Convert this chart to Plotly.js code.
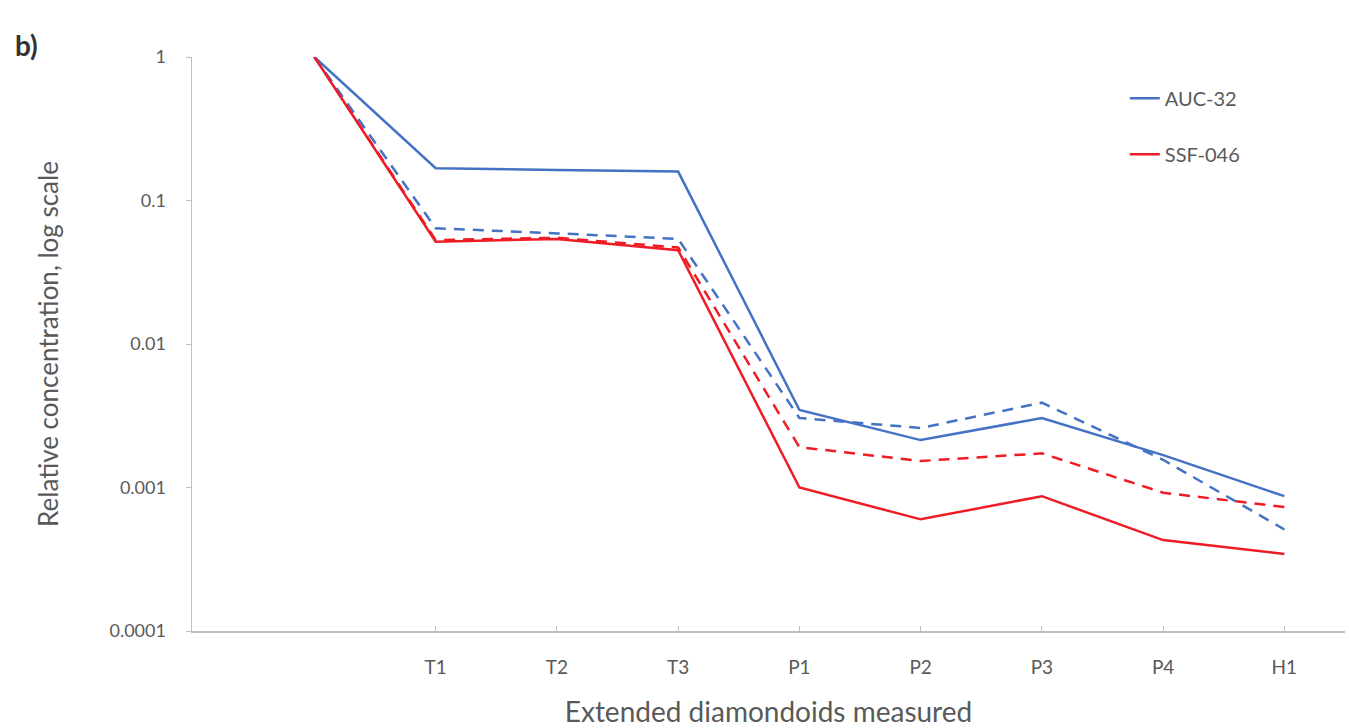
<!DOCTYPE html>
<html>
<head>
<meta charset="utf-8">
<script src="https://cdn.plot.ly/plotly-3.0.1.min.js"></script>
<style>html,body{margin:0;padding:0;background:#fff;}#chart{width:1349px;height:728px;}</style>
</head>
<body>
<div id="chart"></div>
<script>
// categories (first one is unlabelled)
const categories = ["", "T1", "T2", "T3", "P1", "P2", "P3", "P4", "H1"];
// series values
const auc32Solid  = [1, 0.168, 0.163, 0.159, 0.00347, 0.00214, 0.00305, 0.00168, 0.00087];
const auc32Dashed = [1, 0.064, 0.059, 0.054, 0.00305, 0.0026, 0.0039, 0.00156, 0.00051];
const ssf046Solid  = [1, 0.0516, 0.054, 0.045, 0.001, 0.0006, 0.00087, 0.00043, 0.000344];
const ssf046Dashed = [1, 0.053, 0.055, 0.047, 0.00191, 0.00153, 0.00173, 0.00092, 0.00073];
// y tick labels
const yTickVals = [0.0001, 0.001, 0.01, 0.1, 1];
const yTickText = ["0.0001", "0.001", "0.01", "0.1", "1"];

const xIdx = categories.map((c, i) => i);
const blue = "#4472C4";
const red = "#EE1C25";
const gray = "#595959";
const FONT = "Lato, 'Open Sans', sans-serif";

const traces = [
  {x: xIdx, y: auc32Solid, name: "AUC-32", mode: "lines", legendgroup: "a",
   line: {color: blue, width: 2.5}},
  {x: xIdx, y: ssf046Solid, name: "SSF-046", mode: "lines", legendgroup: "b",
   line: {color: red, width: 2.5}},
  {x: xIdx, y: auc32Dashed, name: "AUC-32 (dashed)", mode: "lines", showlegend: false,
   line: {color: blue, width: 2.5, dash: "11px,8px"}},
  {x: xIdx, y: ssf046Dashed, name: "SSF-046 (dashed)", mode: "lines", showlegend: false,
   line: {color: red, width: 2.5, dash: "11px,8px"}}
];

const layout = {
  width: 1349, height: 728,
  margin: {l: 192, r: 4, t: 57, b: 97},
  paper_bgcolor: "#fff", plot_bgcolor: "#fff",
  font: {family: FONT, color: gray},
  showlegend: true,
  legend: {x: 0.809, y: 0.962, xanchor: "left", yanchor: "top",
           font: {size: 20, color: gray, family: FONT}, tracegroupgap: 27,
           bgcolor: "rgba(0,0,0,0)"},
  xaxis: {
    range: [-1.01, 8.5],
    tickvals: xIdx.slice(1), ticktext: categories.slice(1),
    showgrid: false, zeroline: false,
    showline: true, linecolor: "#BFBFBF", linewidth: 1.5,
    ticks: "inside", ticklen: 5, tickcolor: "#BFBFBF",
    ticklabelstandoff: 19,
    tickfont: {size: 19, color: gray},
    title: {text: "Extended diamondoids measured", font: {size: 28, color: gray}, standoff: 26}
  },
  yaxis: {
    type: "log", range: [-4, 0],
    tickvals: yTickVals, ticktext: yTickText,
    showgrid: false, zeroline: false,
    showline: true, linecolor: "#BFBFBF", linewidth: 1.5,
    ticks: "outside", ticklen: 5, tickcolor: "#BFBFBF",
    ticklabelstandoff: 16,
    tickfont: {size: 18, color: gray},
    title: {text: "Relative concentration, log scale", font: {size: 26, color: gray}, standoff: 43}
  },
  annotations: [
    {text: "<b>b)</b>", xref: "paper", yref: "paper", x: -0.155, y: 1.021,
     xanchor: "left", yanchor: "middle", showarrow: false,
     font: {size: 28, color: "#333", family: FONT}}
  ]
};

Plotly.newPlot("chart", traces, layout, {displayModeBar: false, staticPlot: true});
</script>
</body>
</html>
